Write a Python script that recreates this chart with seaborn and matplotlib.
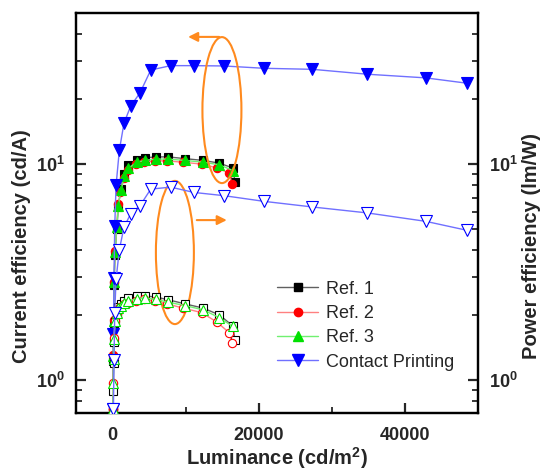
import numpy as np
import pandas as pd
import matplotlib
matplotlib.use("Agg")
import matplotlib.pyplot as plt
from matplotlib.patches import Ellipse
from matplotlib.lines import Line2D
import seaborn as sns

# ---------------- data ----------------
L_cp = [60, 120, 200, 300, 480, 930, 1570, 2490, 3760, 5230, 7960, 11150, 15260,
        20730, 27340, 34860, 42850, 48540]
CE_cp = [0.73, 1.63, 2.98, 5.15, 7.96, 11.6, 15.5, 18.6, 21.4, 27.3, 28.6, 28.6, 28.5,
         27.8, 27.5, 26.1, 25.1, 23.7]
L_cp_pe = [120, 200, 300, 480, 930, 1570, 2490, 3760, 5230, 7960, 11150, 15260,
           20730, 27340, 34860, 42850, 48540]
PE_cp = [0.73, 1.24, 2.05, 2.92, 4.01, 5.11, 5.89, 6.42, 7.66, 7.82, 7.39, 7.14,
         6.72, 6.33, 5.94, 5.43, 4.93]

L_r1 = [50, 100, 150, 205, 340, 575, 795, 1120, 1620, 2170, 3310, 4450, 5950, 7640,
        9920, 12430, 14620, 16440, 16750]
CE_r1 = [0.73, 1.22, 1.80, 2.75, 3.8, 5.0, 6.3, 7.7, 9.0, 9.9, 10.5, 10.7, 10.8, 10.8,
         10.6, 10.4, 10.1, 9.6, 8.3]
PE_r1 = [0.73, 0.89, 1.20, 1.50, 1.85, 2.05, 2.18, 2.25, 2.33, 2.40, 2.44, 2.45, 2.42,
         2.35, 2.25, 2.15, 2.00, 1.78, 1.53]

L_r2 = [45, 95, 145, 200, 330, 560, 775, 1080, 1560, 2100, 3200, 4300, 5800, 7450,
        9700, 12200, 14300, 16000, 16300]
CE_r2 = [0.73, 1.30, 1.90, 2.85, 3.95, 5.2, 6.5, 7.4, 8.6, 9.4, 10.0, 10.2, 10.35,
         10.35, 10.2, 10.0, 9.6, 9.07, 8.1]
PE_r2 = [0.73, 0.97, 1.27, 1.57, 1.88, 2.03, 2.12, 2.17, 2.25, 2.28, 2.33, 2.36, 2.32,
         2.25, 2.15, 2.05, 1.85, 1.65, 1.49]

L_r3 = [50, 100, 150, 205, 340, 575, 795, 1120, 1620, 2170, 3310, 4450, 5950, 7640,
        9920, 12430, 14620, 16440]
CE_r3 = [0.73, 1.29, 1.87, 2.83, 3.9, 5.1, 6.4, 7.55, 8.77, 9.58, 10.2, 10.4, 10.55,
         10.55, 10.4, 10.2, 9.93, 9.34]
PE_r3 = [0.73, 0.97, 1.25, 1.55, 1.87, 2.05, 2.15, 2.2, 2.28, 2.32, 2.38, 2.40, 2.36,
         2.29, 2.21, 2.11, 1.94, 1.77]

labels = ["Ref. 1", "Ref. 2", "Ref. 3", "Contact Printing"]
x_ticks = [0, 20000, 40000]
y_ticks = [1, 10]
y_ticklabels = [r"$\mathbf{10^{0}}$", r"$\mathbf{10^{1}}$"]

# ---------------- style ----------------
sns.set_theme(style="ticks")
plt.rcParams["font.family"] = ["Liberation Sans", "DejaVu Sans"]
plt.rcParams["mathtext.fontset"] = "custom"
plt.rcParams["mathtext.rm"] = "Liberation Sans"
plt.rcParams["mathtext.bf"] = "Liberation Sans:bold"
plt.rcParams["axes.linewidth"] = 1.6

fig = plt.figure(figsize=(5.47, 4.75), dpi=100)
ax = fig.add_axes([76 / 547, 1 - 413.3 / 475, 402 / 547, 400 / 475])
ax.set_yscale("log")
ax2 = ax.twinx()
ax2.set_yscale("log")

series = [
    (L_r1, CE_r1, L_r1, PE_r1, "s", "black", "#606060", 5.5),
    (L_r2, CE_r2, L_r2, PE_r2, "o", "#ff0000", "#ff8080", 6),
    (L_r3, CE_r3, L_r3, PE_r3, "^", "#00e000", "#70f070", 7),
    (L_cp, CE_cp, L_cp_pe, PE_cp, "v", "#0000ff", "#7070ff", 8),
]

handles = []
for (lx, ce, lpx, pe, mk, mc, lc, ms), lab in zip(series, labels):
    sns.lineplot(x=lx, y=ce, ax=ax, color=lc, linewidth=1.0, marker=mk,
                 markersize=ms, markerfacecolor=mc, markeredgecolor=mc,
                 markeredgewidth=0.8, sort=False, estimator=None, zorder=3)
    sns.lineplot(x=lpx, y=pe, ax=ax2, color=lc, linewidth=1.0, marker=mk,
                 markersize=ms, markerfacecolor="white", markeredgecolor=mc,
                 markeredgewidth=0.8, sort=False, estimator=None, zorder=3)
    handles.append(Line2D([], [], color=lc, linewidth=1.0, marker=mk, markersize=ms,
                          markerfacecolor=mc, markeredgecolor=mc, label=lab))

for a in (ax, ax2):
    a.set_xlim(-5000, 50000)
    a.set_ylim(0.7, 50)

ax.set_xticks(x_ticks)
ax.set_xticklabels([str(v) for v in x_ticks], fontweight="bold", fontsize=13)
ax.set_xticks([10000, 30000, 50000], minor=True)
ax.set_yticks(y_ticks)
ax.set_yticklabels(y_ticklabels, fontsize=13)
ax2.set_yticks(y_ticks)
ax2.set_yticklabels(y_ticklabels, fontsize=13)
for a in (ax, ax2):
    a.yaxis.set_minor_locator(matplotlib.ticker.LogLocator(base=10, subs=np.arange(2, 10)))
    a.yaxis.set_minor_formatter(matplotlib.ticker.NullFormatter())
ax.tick_params(axis="both", which="major", direction="in", length=7, width=1.6, pad=8)
ax.tick_params(axis="x", which="major", pad=10)
ax.tick_params(axis="both", which="minor", direction="in", length=4, width=1.3)
ax.tick_params(axis="y", which="both", left=True, right=False)
ax2.tick_params(axis="y", which="major", direction="in", length=7, width=1.6, pad=8)
ax2.tick_params(axis="y", which="minor", direction="in", length=4, width=1.3)

ax.set_xlabel(r"Luminance (cd/m$^\mathbf{2}$)", fontweight="bold", fontsize=14.5)
ax.xaxis.set_label_coords(0.5, -0.08)
ax.set_ylabel("Current efficiency (cd/A)", fontweight="bold", fontsize=14.5)
ax.yaxis.set_label_coords(-0.112, 0.418)
ax2.set_ylabel("Power efficiency (lm/W)", fontweight="bold", fontsize=14.5)
ax2.yaxis.set_label_coords(1.11, 0.418)
for a in (ax, ax2):
    for s in a.spines.values():
        s.set_linewidth(1.6)
        s.set_color("black")
if ax2.get_legend():
    ax2.get_legend().remove()

ax.legend(handles=handles, loc="upper left", bbox_to_anchor=(0.483, 0.35),
          frameon=False, fontsize=13, handlelength=2.27, labelspacing=0.41,
          handletextpad=0.44, borderaxespad=0)

# orange annotations (axes-fraction placement)
orange = "#ff8a1e"
ax.add_patch(Ellipse((0.363, 0.758), 0.097, 0.365, transform=ax.transAxes,
                     fill=False, edgecolor=orange, linewidth=1.5, zorder=5))
ax.add_patch(Ellipse((0.246, 0.402), 0.0945, 0.358, transform=ax.transAxes,
                     fill=False, edgecolor=orange, linewidth=1.5, zorder=5))
ax.annotate("", xy=(0.272, 0.941), xytext=(0.363, 0.941), xycoords="axes fraction",
            arrowprops=dict(arrowstyle="-|>", color=orange, lw=1.5, mutation_scale=14))
ax.annotate("", xy=(0.382, 0.483), xytext=(0.2935, 0.483), xycoords="axes fraction",
            arrowprops=dict(arrowstyle="-|>", color=orange, lw=1.5, mutation_scale=14))

fig.savefig("out.png", dpi=100)
